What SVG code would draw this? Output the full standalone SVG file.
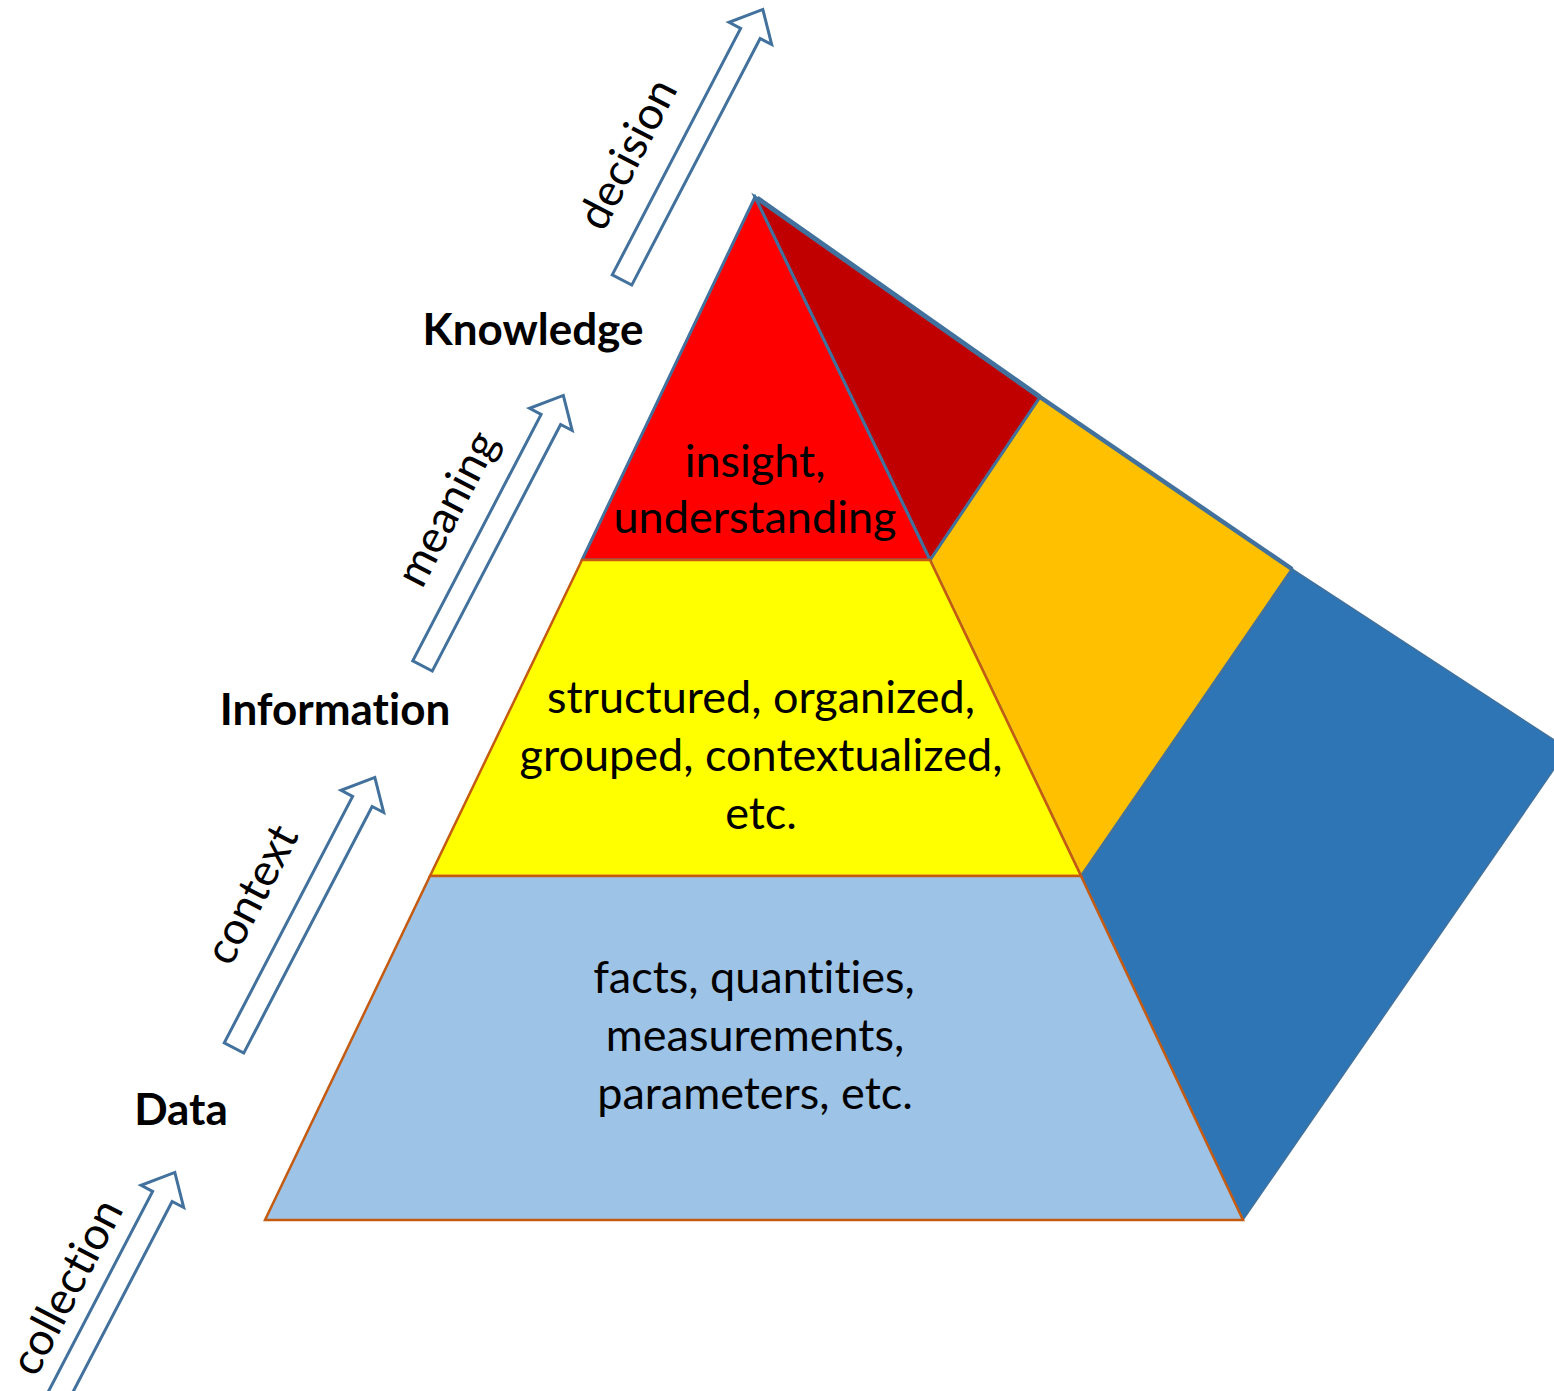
<svg xmlns="http://www.w3.org/2000/svg" width="1554" height="1391" viewBox="0 0 1554 1391">
<style>
.t{font-family:Lato,"Open Sans","DejaVu Sans",sans-serif;font-size:45px;fill:#000;text-anchor:middle;font-variant-ligatures:none}
.b{font-family:Lato,"Open Sans","DejaVu Sans",sans-serif;font-size:44px;font-weight:bold;fill:#000;text-anchor:middle;font-variant-ligatures:none}
.arr{fill:#fff;stroke:#41719C;stroke-width:3;stroke-linejoin:miter}
.brown{stroke:#C55A11;stroke-width:2.5}
</style>
<defs>
<path id="blockArrow" d="M0,-11 L278,-11 L278,-24 L305,0 L278,24 L278,11 L0,11 Z"/>
</defs>
<rect width="1554" height="1391" fill="#fff"/>

<g id="side-blue">
<polygon points="1292,569 1568,749 1243,1220 1081,876" fill="#2E75B6" stroke="#41719C" stroke-width="1.5"/>
</g>
<g id="side-orange">
<polygon points="1040,397 1292,569 1081,876 930,560" fill="#FFC000" stroke="#41719C" stroke-width="2.5"/>
<line x1="1040" y1="397" x2="1292" y2="569" stroke="#41719C" stroke-width="4.5"/>
</g>
<g id="side-darkred">
<polygon points="755,197 1040,397 930,560" fill="#C00000" stroke="#41719C" stroke-width="3"/>
<line x1="757" y1="198" x2="1040" y2="397" stroke="#41719C" stroke-width="5"/>
</g>

<g id="level-knowledge">
<polygon points="755,197 930,560 582,560" fill="#FF0000" stroke="#41719C" stroke-width="3" stroke-linejoin="miter"/>
<text class="t" x="755" y="477">insight,</text>
<text class="t" x="755" y="533">understanding</text>
</g>
<g id="level-information">
<polygon points="582,560 930,560 1081,876 430,876" fill="#FFFF00" class="brown"/>
<text class="t" x="761" y="713">structured, organized,</text>
<text class="t" x="761" y="771">grouped, contextualized,</text>
<text class="t" x="761" y="829">etc.</text>
</g>
<g id="level-data">
<polygon points="430,876 1081,876 1243,1220 265,1220" fill="#9DC3E6" class="brown"/>
<text class="t" x="754" y="993">facts, quantities,</text>
<text class="t" x="755" y="1051">measurements,</text>
<text class="t" x="755" y="1109">parameters, etc.</text>
</g>

<g id="label-knowledge"><text class="b" x="533" y="345">Knowledge</text></g>
<g id="label-information"><text class="b" x="335" y="725">Information</text></g>
<g id="label-data"><text class="b" x="181" y="1125">Data</text></g>

<g id="connectors">
<g id="arrow-collection">
<use href="#blockArrow" class="arr" transform="translate(34,1443) rotate(-62.5)"/>
<text class="t" transform="translate(80,1294) rotate(-62.5)">collection</text>
</g>
<g id="arrow-context">
<use href="#blockArrow" class="arr" transform="translate(234,1048) rotate(-62.5)"/>
<text class="t" transform="translate(265,901.5) rotate(-62.5)">context</text>
</g>
<g id="arrow-meaning">
<use href="#blockArrow" class="arr" transform="translate(422.5,666) rotate(-62.5)"/>
<text class="t" transform="translate(460.6,515.5) rotate(-62.5)">meaning</text>
</g>
<g id="arrow-decision">
<use href="#blockArrow" class="arr" transform="translate(622,280) rotate(-62.5)"/>
<text class="t" transform="translate(641,161) rotate(-62.5)">decision</text>
</g>
</g>
</svg>
